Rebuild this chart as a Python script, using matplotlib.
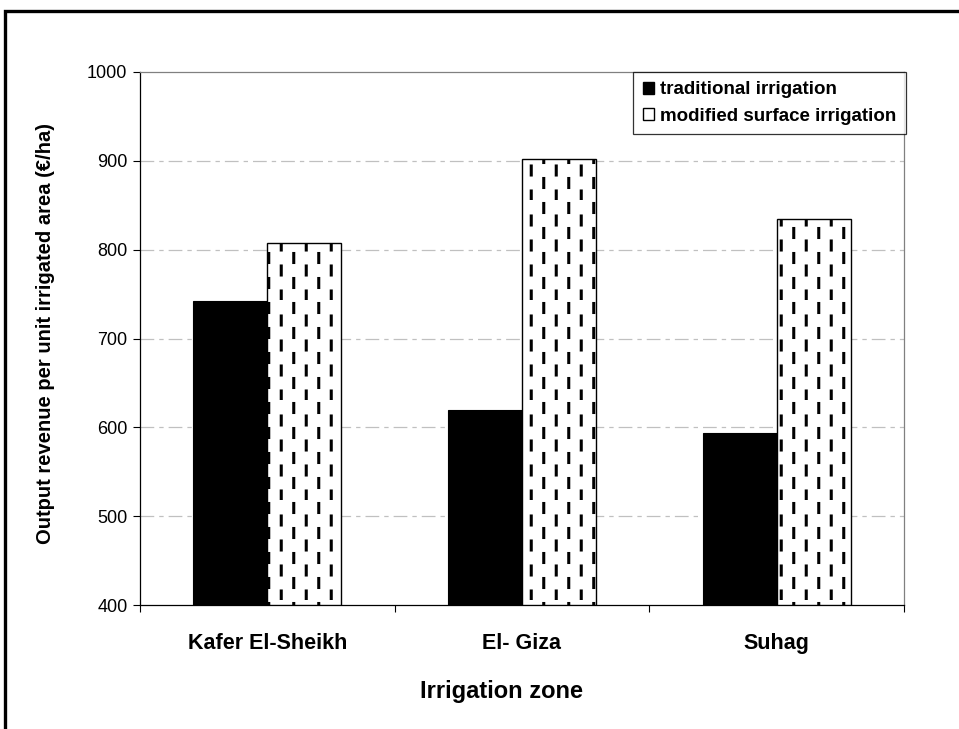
import numpy as np
import matplotlib
matplotlib.use("Agg")
import matplotlib.pyplot as plt
import matplotlib.hatch as mhatch
from matplotlib.path import Path
from matplotlib.patches import Patch, Rectangle

# Data
ZONES = ["Kafer El-Sheikh", "El- Giza", "Suhag"]
TRADITIONAL = [742, 620, 594]
MODIFIED = [807, 902, 835]
SERIES_NAMES = ["traditional irrigation", "modified surface irrigation"]
Y_TICKS = [400, 500, 600, 700, 800, 900, 1000]


class StaggeredDashHatch(mhatch.HatchPatternBase):
    """Short vertical dashes in staggered columns (replaces the '|' hatch)."""
    n_cols = 8
    n_rows = 4
    dash = 0.09

    def __init__(self, hatch, density):
        self.active = '|' in hatch
        self.num_vertices = self.n_cols * self.n_rows * 2 * 2 if self.active else 0

    def set_vertices_and_codes(self, vertices, codes):
        segs = []
        for i in range(self.n_cols):
            x = (i + 0.5) / self.n_cols
            shift = 0.5 / self.n_rows if i % 2 else 0.0
            for j in range(self.n_rows):
                y0 = (j / self.n_rows + shift) % 1.0
                segs.append((x, y0, min(y0 + self.dash, 1.0)))
                # wrap piece (zero length if not needed)
                over = max(y0 + self.dash - 1.0, 0.0)
                segs.append((x, 0.0, over))
        k = 0
        for x, a, b in segs:
            vertices[k] = (x, a)
            vertices[k + 1] = (x, b)
            codes[k] = Path.MOVETO
            codes[k + 1] = Path.LINETO
            k += 2


mhatch._hatch_types = [h for h in mhatch._hatch_types
                       if h is not mhatch.VerticalHatch] + [StaggeredDashHatch]

plt.rcParams['font.family'] = ['Liberation Sans', 'DejaVu Sans']
plt.rcParams['hatch.linewidth'] = 2.2

fig = plt.figure(figsize=(9.59, 7.29), dpi=100)
ax = fig.add_axes([140 / 959, 1 - 605 / 729, 764 / 959, 533 / 729])

x = np.arange(len(ZONES))
width = 0.29
ax.bar(x - width, TRADITIONAL, width, align='edge', color='black',
       edgecolor='black', linewidth=0.8, zorder=3)
ax.bar(x, [v - 400 for v in MODIFIED], width, bottom=400, align='edge',
       color='white', edgecolor='black', linewidth=1.0, hatch='|', zorder=3)

ax.set_xlim(-0.5, len(ZONES) - 0.5)
ax.set_ylim(400, 1000)
ax.set_yticks(Y_TICKS)
ax.set_yticklabels([str(v) for v in Y_TICKS], fontsize=13)
ax.tick_params(axis='y', direction='out', length=5, width=0.8, pad=4)

ax.set_xticks(x)
ax.set_xticklabels(ZONES, fontsize=15.5, fontweight='bold')
ax.set_xticks(np.arange(-0.5, len(ZONES)), minor=True)
ax.tick_params(axis='x', which='major', length=0, pad=20)
ax.tick_params(axis='x', which='minor', direction='out', length=5, width=0.8)

for v in Y_TICKS[1:-1]:
    ax.axhline(v, color='#c0c0c0', linewidth=0.9,
               linestyle=(0, (11, 4, 3.5, 4)), zorder=1)

for side in ['left', 'bottom']:
    ax.spines[side].set_color('black')
    ax.spines[side].set_linewidth(0.9)
for side in ['top', 'right']:
    ax.spines[side].set_color('#808080')
    ax.spines[side].set_linewidth(0.9)

ax.set_xlabel("Irrigation zone", fontsize=17, fontweight='bold')
ax.xaxis.set_label_coords((502 - 140) / 764, -0.14)
ax.xaxis.label.set_va('top')
ax.set_ylabel("Output revenue per unit irrigated area (€/ha)", fontsize=14.5,
              fontweight='bold')
ax.yaxis.set_label_coords((55 - 140) / 764, 0.51)

handles = [Patch(facecolor='black', edgecolor='black'),
           Patch(facecolor='white', edgecolor='black')]
leg = ax.legend(handles, SERIES_NAMES, loc='upper right',
                bbox_to_anchor=(906 / 959, 1 - 72 / 729),
                bbox_transform=fig.transFigure, prop={'size': 13.5, 'weight': 'bold'},
                frameon=True, fancybox=False, handlelength=0.6, handleheight=0.6,
                handletextpad=0.35, borderpad=0.5, labelspacing=0.5,
                borderaxespad=0)
leg.get_frame().set_edgecolor('black')
leg.get_frame().set_linewidth(0.9)
leg.set_zorder(5)

# outer frame of the figure (only top and left edges visible)
fig.patches.append(Rectangle((5 / 959, -0.5), 2.0, 0.5 + 1 - 11 / 729,
                             transform=fig.transFigure, fill=False,
                             edgecolor='black', linewidth=2.4))

fig.savefig("out.png", dpi=100)
